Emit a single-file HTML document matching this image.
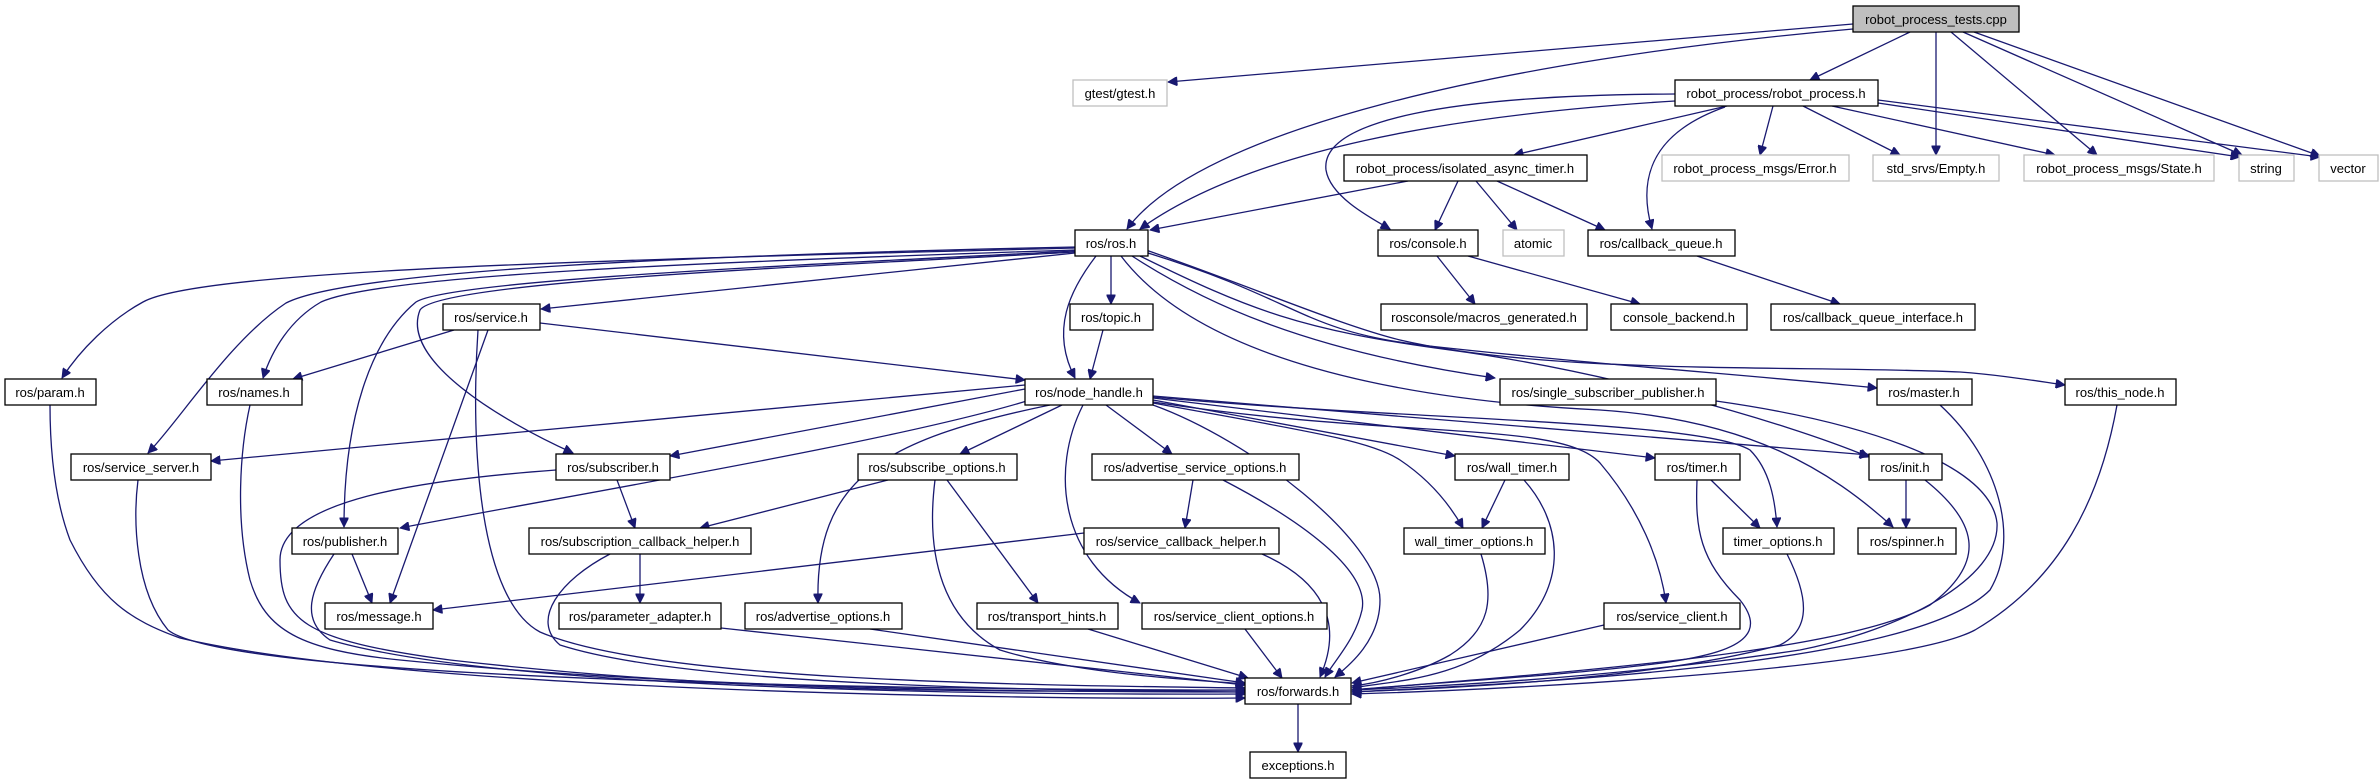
<!DOCTYPE html>
<html><head><meta charset="utf-8"><style>
html,body{margin:0;padding:0;background:#fff;}
svg{display:block;}
text{font-family:"Liberation Sans",Arial,sans-serif;font-size:13px;fill:#000;}
.e{fill:none;stroke:#191970;stroke-width:1.3;marker-end:url(#a);}
.n{fill:#fff;stroke:#000;stroke-width:1.3;}
.g{fill:#fff;stroke:#bfbfbf;stroke-width:1.3;}
</style></head><body>
<svg width="2379" height="784" viewBox="0 0 2379 784" xmlns="http://www.w3.org/2000/svg">
<defs><marker id="a" viewBox="0 0 10 10" refX="10" refY="5" markerUnits="userSpaceOnUse" markerWidth="12" markerHeight="9" orient="auto"><path d="M0,0 L10,5 L0,10 z" fill="#191970" stroke="#191970"/></marker></defs>
<g>
<path class="e" d="M1853,24 L1168,82"/>
<path class="e" d="M1853,29 C1500,60 1200,130 1127,229"/>
<path class="e" d="M1910,32 L1810,80"/>
<path class="e" d="M1936,32 L1936,155"/>
<path class="e" d="M1951,32 L2097,155"/>
<path class="e" d="M1963,32 L2242,155"/>
<path class="e" d="M1974,32 L2320,156"/>
<path class="e" d="M1675,101 C1450,115 1250,150 1140,229"/>
<path class="e" d="M1675,94 C1450,95 1320,120 1326,170 C1330,195 1365,215 1390,229"/>
<path class="e" d="M1727,106 L1514,155"/>
<path class="e" d="M1725,107 C1660,130 1635,170 1652,229"/>
<path class="e" d="M1773,106 L1760,155"/>
<path class="e" d="M1803,106 L1900,155"/>
<path class="e" d="M1832,106 L2055,155"/>
<path class="e" d="M1878,103 L2240,157"/>
<path class="e" d="M1878,100 L2320,157"/>
<path class="e" d="M1408,181 L1150,230"/>
<path class="e" d="M1458,181 L1435,230"/>
<path class="e" d="M1476,181 L1517,230"/>
<path class="e" d="M1497,181 L1605,230"/>
<path class="e" d="M1075,248 C600,260 200,270 143,302 C110,320 80,350 62,378"/>
<path class="e" d="M1075,250 C700,262 380,275 321,302 C290,320 272,350 263,378"/>
<path class="e" d="M1075,247 C700,255 350,270 286,303 C230,340 180,420 148,453"/>
<path class="e" d="M1075,251 C800,265 450,280 416,302 C370,340 344,420 344,527"/>
<path class="e" d="M1075,252 C850,265 440,280 420,310 C400,360 500,420 573,453"/>
<path class="e" d="M1075,253 L541,309"/>
<path class="e" d="M1111,256 L1111,304"/>
<path class="e" d="M1096,256 C1070,290 1050,330 1075,378"/>
<path class="e" d="M1132,256 C1200,300 1300,350 1495,378"/>
<path class="e" d="M1121,256 C1200,360 1400,400 1600,410 C1750,420 1830,470 1893,527"/>
<path class="e" d="M1148,253 C1300,300 1300,330 1420,345 C1600,365 1750,375 1877,388"/>
<path class="e" d="M1146,250 C1260,290 1340,325 1400,340 C1550,375 1800,365 1960,372 C2000,375 2030,380 2065,385"/>
<path class="e" d="M1140,256 C1250,310 1300,330 1450,350 C1600,370 1780,420 1869,457"/>
<path class="e" d="M1103,330 L1090,379"/>
<path class="e" d="M454,330 L293,379"/>
<path class="e" d="M540,323 L1025,380"/>
<path class="e" d="M488,330 L390,603"/>
<path class="e" d="M478,330 C470,450 480,600 540,632 C650,680 1000,685 1245,688"/>
<path class="e" d="M1437,256 L1475,304"/>
<path class="e" d="M1468,256 L1640,304"/>
<path class="e" d="M1697,256 L1840,304"/>
<path class="e" d="M1025,385 L211,461"/>
<path class="e" d="M1025,389 L670,456"/>
<path class="e" d="M1030,400 C900,440 600,490 400,528"/>
<path class="e" d="M1062,405 L960,454"/>
<path class="e" d="M1050,405 C880,440 815,480 818,603"/>
<path class="e" d="M1106,405 L1172,454"/>
<path class="e" d="M1083,405 C1050,470 1060,560 1140,603"/>
<path class="e" d="M1153,405 C1250,440 1380,540 1380,600 C1380,640 1350,665 1335,677"/>
<path class="e" d="M1153,400 L1455,456"/>
<path class="e" d="M1153,403 C1300,430 1370,440 1400,460 C1430,480 1450,505 1463,528"/>
<path class="e" d="M1153,398 L1655,458"/>
<path class="e" d="M1153,397 C1400,420 1700,420 1750,450 C1770,470 1775,500 1777,527"/>
<path class="e" d="M1153,396 L1869,455"/>
<path class="e" d="M1153,402 C1400,440 1560,420 1600,463 C1640,510 1660,560 1666,603"/>
<path class="e" d="M617,480 L635,528"/>
<path class="e" d="M556,470 C420,480 280,500 280,560 C280,620 300,640 450,660 C800,700 1100,690 1245,690"/>
<path class="e" d="M888,480 L700,528"/>
<path class="e" d="M947,480 L1038,603"/>
<path class="e" d="M935,480 C925,560 945,620 1000,650 C1080,675 1200,680 1245,684"/>
<path class="e" d="M1193,480 L1185,528"/>
<path class="e" d="M1223,480 C1300,520 1370,570 1362,610 C1355,640 1335,660 1325,677"/>
<path class="e" d="M1505,480 L1482,528"/>
<path class="e" d="M1524,480 C1560,520 1570,580 1520,630 C1460,680 1400,680 1352,688"/>
<path class="e" d="M1711,480 L1760,528"/>
<path class="e" d="M1697,480 C1695,530 1700,560 1740,600 C1780,650 1700,660 1600,670 C1500,680 1400,685 1352,690"/>
<path class="e" d="M1906,480 L1906,528"/>
<path class="e" d="M1925,480 C1975,520 1990,560 1930,605 C1850,650 1600,670 1352,690"/>
<path class="e" d="M1940,405 C2000,460 2020,540 1990,590 C1920,660 1600,680 1352,692"/>
<path class="e" d="M2117,405 C2100,500 2060,580 1975,630 C1900,670 1500,690 1352,694"/>
<path class="e" d="M1716,401 C1850,420 1990,460 1997,523 C2000,580 1900,630 1800,650 C1600,680 1400,688 1352,690"/>
<path class="e" d="M352,554 L372,603"/>
<path class="e" d="M334,554 C310,590 300,620 330,640 C500,690 1000,695 1245,694"/>
<path class="e" d="M640,554 L640,603"/>
<path class="e" d="M610,554 C560,580 530,620 560,645 C700,690 1100,690 1245,692"/>
<path class="e" d="M1084,533 L433,610"/>
<path class="e" d="M1262,554 C1320,580 1345,620 1320,677"/>
<path class="e" d="M1481,554 C1495,600 1490,630 1450,655 C1420,672 1380,683 1352,686"/>
<path class="e" d="M1787,554 C1810,600 1810,630 1780,645 C1650,680 1450,688 1352,692"/>
<path class="e" d="M721,628 L1245,685"/>
<path class="e" d="M870,629 L1245,683"/>
<path class="e" d="M1088,629 L1248,678"/>
<path class="e" d="M1245,629 L1282,678"/>
<path class="e" d="M1604,625 L1352,683"/>
<path class="e" d="M50,405 C50,450 55,500 70,540 C100,600 130,620 180,638 C400,690 1000,700 1245,698"/>
<path class="e" d="M250,405 C240,450 235,520 250,580 C265,630 300,650 400,660 C700,690 1050,692 1245,692"/>
<path class="e" d="M138,480 C133,520 135,590 168,630 C230,680 900,690 1245,690"/>
<path class="e" d="M1298,704 L1298,752"/>
</g>
<g>
<rect x="1853" y="6" width="166" height="26" fill="#bfbfbf" stroke="#000" stroke-width="1.3"/><text x="1936" y="24" text-anchor="middle">robot_process_tests.cpp</text>
<rect class="g" x="1073" y="80" width="94" height="26"/><text x="1120" y="98" text-anchor="middle">gtest/gtest.h</text>
<rect class="n" x="1675" y="80" width="203" height="26"/><text x="1776" y="98" text-anchor="middle">robot_process/robot_process.h</text>
<rect class="n" x="1344" y="155" width="243" height="26"/><text x="1465" y="173" text-anchor="middle">robot_process/isolated_async_timer.h</text>
<rect class="g" x="1662" y="155" width="187" height="26"/><text x="1755" y="173" text-anchor="middle">robot_process_msgs/Error.h</text>
<rect class="g" x="1873" y="155" width="126" height="26"/><text x="1936" y="173" text-anchor="middle">std_srvs/Empty.h</text>
<rect class="g" x="2024" y="155" width="190" height="26"/><text x="2119" y="173" text-anchor="middle">robot_process_msgs/State.h</text>
<rect class="g" x="2239" y="155" width="55" height="26"/><text x="2266" y="173" text-anchor="middle">string</text>
<rect class="g" x="2319" y="155" width="59" height="26"/><text x="2348" y="173" text-anchor="middle">vector</text>
<rect class="n" x="1075" y="230" width="73" height="26"/><text x="1111" y="248" text-anchor="middle">ros/ros.h</text>
<rect class="n" x="1378" y="230" width="100" height="26"/><text x="1428" y="248" text-anchor="middle">ros/console.h</text>
<rect class="g" x="1503" y="230" width="61" height="26"/><text x="1533" y="248" text-anchor="middle">atomic</text>
<rect class="n" x="1588" y="230" width="147" height="26"/><text x="1661" y="248" text-anchor="middle">ros/callback_queue.h</text>
<rect class="n" x="443" y="304" width="97" height="26"/><text x="491" y="322" text-anchor="middle">ros/service.h</text>
<rect class="n" x="1070" y="304" width="83" height="26"/><text x="1111" y="322" text-anchor="middle">ros/topic.h</text>
<rect class="n" x="1381" y="304" width="206" height="26"/><text x="1484" y="322" text-anchor="middle">rosconsole/macros_generated.h</text>
<rect class="n" x="1611" y="304" width="136" height="26"/><text x="1679" y="322" text-anchor="middle">console_backend.h</text>
<rect class="n" x="1771" y="304" width="204" height="26"/><text x="1873" y="322" text-anchor="middle">ros/callback_queue_interface.h</text>
<rect class="n" x="5" y="379" width="91" height="26"/><text x="50" y="397" text-anchor="middle">ros/param.h</text>
<rect class="n" x="207" y="379" width="95" height="26"/><text x="254" y="397" text-anchor="middle">ros/names.h</text>
<rect class="n" x="1025" y="379" width="128" height="26"/><text x="1089" y="397" text-anchor="middle">ros/node_handle.h</text>
<rect class="n" x="1500" y="379" width="216" height="26"/><text x="1608" y="397" text-anchor="middle">ros/single_subscriber_publisher.h</text>
<rect class="n" x="1877" y="379" width="95" height="26"/><text x="1924" y="397" text-anchor="middle">ros/master.h</text>
<rect class="n" x="2065" y="379" width="111" height="26"/><text x="2120" y="397" text-anchor="middle">ros/this_node.h</text>
<rect class="n" x="71" y="454" width="140" height="26"/><text x="141" y="472" text-anchor="middle">ros/service_server.h</text>
<rect class="n" x="556" y="454" width="114" height="26"/><text x="613" y="472" text-anchor="middle">ros/subscriber.h</text>
<rect class="n" x="858" y="454" width="159" height="26"/><text x="937" y="472" text-anchor="middle">ros/subscribe_options.h</text>
<rect class="n" x="1092" y="454" width="207" height="26"/><text x="1195" y="472" text-anchor="middle">ros/advertise_service_options.h</text>
<rect class="n" x="1455" y="454" width="114" height="26"/><text x="1512" y="472" text-anchor="middle">ros/wall_timer.h</text>
<rect class="n" x="1655" y="454" width="85" height="26"/><text x="1697" y="472" text-anchor="middle">ros/timer.h</text>
<rect class="n" x="1869" y="454" width="73" height="26"/><text x="1905" y="472" text-anchor="middle">ros/init.h</text>
<rect class="n" x="292" y="528" width="106" height="26"/><text x="345" y="546" text-anchor="middle">ros/publisher.h</text>
<rect class="n" x="529" y="528" width="222" height="26"/><text x="640" y="546" text-anchor="middle">ros/subscription_callback_helper.h</text>
<rect class="n" x="1084" y="528" width="195" height="26"/><text x="1181" y="546" text-anchor="middle">ros/service_callback_helper.h</text>
<rect class="n" x="1404" y="528" width="141" height="26"/><text x="1474" y="546" text-anchor="middle">wall_timer_options.h</text>
<rect class="n" x="1723" y="528" width="111" height="26"/><text x="1778" y="546" text-anchor="middle">timer_options.h</text>
<rect class="n" x="1858" y="528" width="98" height="26"/><text x="1907" y="546" text-anchor="middle">ros/spinner.h</text>
<rect class="n" x="325" y="603" width="108" height="26"/><text x="379" y="621" text-anchor="middle">ros/message.h</text>
<rect class="n" x="559" y="603" width="162" height="26"/><text x="640" y="621" text-anchor="middle">ros/parameter_adapter.h</text>
<rect class="n" x="745" y="603" width="157" height="26"/><text x="823" y="621" text-anchor="middle">ros/advertise_options.h</text>
<rect class="n" x="977" y="603" width="141" height="26"/><text x="1047" y="621" text-anchor="middle">ros/transport_hints.h</text>
<rect class="n" x="1142" y="603" width="185" height="26"/><text x="1234" y="621" text-anchor="middle">ros/service_client_options.h</text>
<rect class="n" x="1604" y="603" width="136" height="26"/><text x="1672" y="621" text-anchor="middle">ros/service_client.h</text>
<rect class="n" x="1245" y="678" width="106" height="26"/><text x="1298" y="696" text-anchor="middle">ros/forwards.h</text>
<rect class="n" x="1250" y="752" width="96" height="26"/><text x="1298" y="770" text-anchor="middle">exceptions.h</text>
</g>
</svg>
</body></html>
